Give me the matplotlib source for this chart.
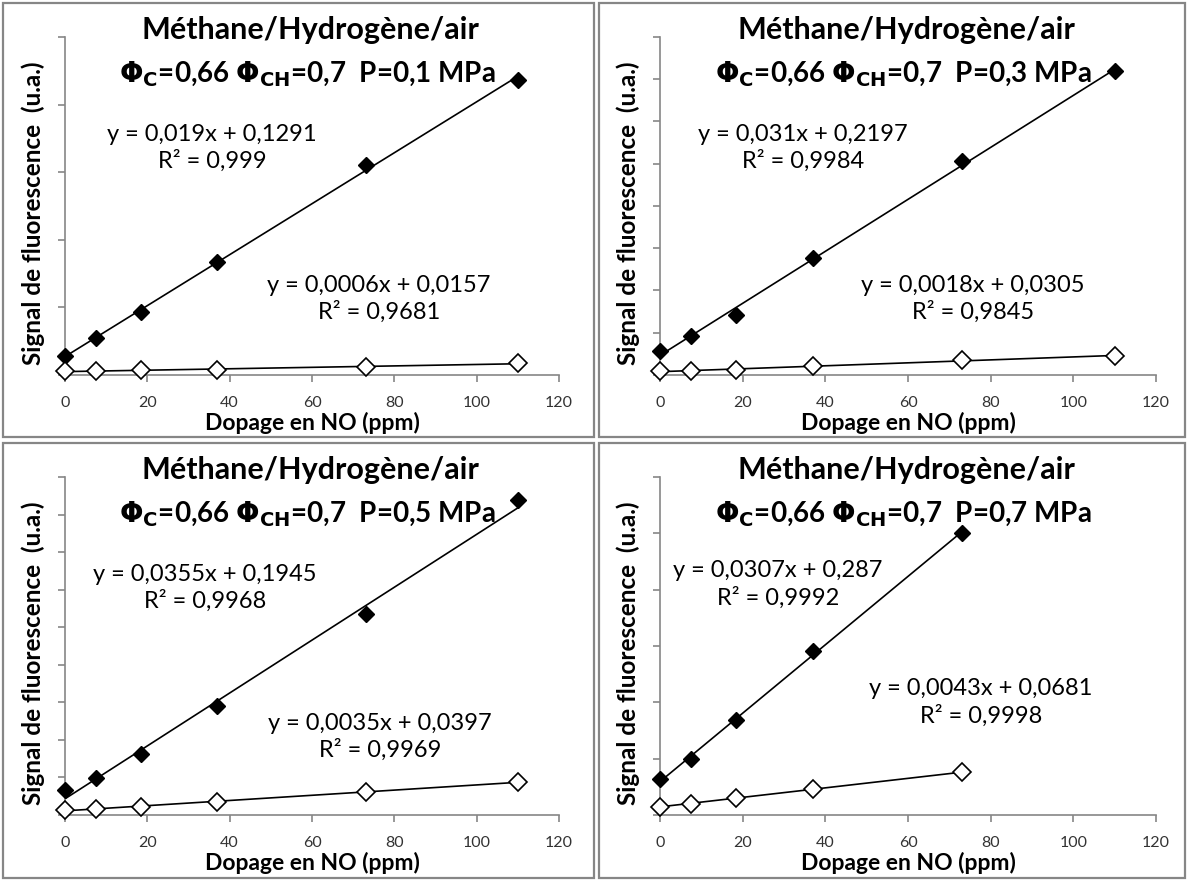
import numpy as np
import matplotlib
matplotlib.use('Agg')
import matplotlib.pyplot as plt
from matplotlib.patches import Rectangle

plt.rcParams['font.family'] = ['Lato', 'DejaVu Sans']
plt.rcParams['mathtext.fontset'] = 'custom'
plt.rcParams['mathtext.rm'] = 'Lato'
plt.rcParams['mathtext.bf'] = 'DejaVu Sans:bold'
plt.rcParams['mathtext.fallback'] = 'stixsans'

# NO doping (ppm)
x_full = [0, 7.5, 18.5, 37, 73, 110]
x_short = [0, 7.5, 18.5, 37, 73]

pressures = ['0,1', '0,3', '0,5', '0,7']

# fluorescence signal, filled diamonds
sig_01 = [0.139, 0.273, 0.468, 0.834, 1.556, 2.183]
sig_03 = [0.285, 0.457, 0.715, 1.387, 2.527, 3.594]
sig_05 = [0.329, 0.496, 0.812, 1.449, 2.678, 4.192]
sig_07 = [0.316, 0.498, 0.840, 1.455, 2.502]

# fluorescence signal, open diamonds
bg_01 = [0.029, 0.029, 0.037, 0.037, 0.061, 0.087]
bg_03 = [0.047, 0.051, 0.059, 0.105, 0.176, 0.227]
bg_05 = [0.066, 0.083, 0.110, 0.176, 0.307, 0.439]
bg_07 = [0.073, 0.102, 0.152, 0.228, 0.380]

eq_sig = ['y = 0,019x + 0,1291\nR² = 0,999',
          'y = 0,031x + 0,2197\nR² = 0,9984',
          'y = 0,0355x + 0,1945\nR² = 0,9968',
          'y = 0,0307x + 0,287\nR² = 0,9992']
eq_bg = ['y = 0,0006x + 0,0157\nR² = 0,9681',
         'y = 0,0018x + 0,0305\nR² = 0,9845',
         'y = 0,0035x + 0,0397\nR² = 0,9969',
         'y = 0,0043x + 0,0681\nR² = 0,9998']

y_max = [2.5, 4.0, 4.5, 3.0]

panels = [
    (x_full, sig_01, bg_01),
    (x_full, sig_03, bg_03),
    (x_full, sig_05, bg_05),
    (x_short, sig_07, bg_07),
]

W, H = 1188, 882
fig = plt.figure(figsize=(W / 100, H / 100), dpi=100)

# pixel layout: border boxes and axes boxes
borders = [(3, 3, 594, 437), (599, 3, 1185, 437), (3, 443, 594, 878), (599, 443, 1185, 878)]
axes_px = [(65, 37, 559, 375), (660, 37, 1156, 375), (65, 477, 559, 815), (660, 477, 1156, 815)]
eq_sig_pos = [(0.298, 0.672), (0.288, 0.672), (0.283, 0.672), (0.238, 0.683)]
eq_bg_pos = [(0.636, 0.225), (0.631, 0.225), (0.638, 0.231), (0.647, 0.334)]

grey = '#868686'

for i in range(4):
    bx0, by0, bx1, by1 = borders[i]
    fig.patches.append(Rectangle((bx0 / W, 1 - by1 / H), (bx1 - bx0) / W, (by1 - by0) / H,
                                 transform=fig.transFigure, fill=False, ec=grey, lw=1.6))
    x0, y0, x1, y1 = axes_px[i]
    ax = fig.add_axes([x0 / W, 1 - y1 / H, (x1 - x0) / W, (y1 - y0) / H])
    xs, sig, bg = panels[i]

    # trendlines (linear fit)
    for ys in (sig, bg):
        p = np.polyfit(xs, ys, 1)
        xx = np.array([min(xs), max(xs)])
        ax.plot(xx, np.polyval(p, xx), color='black', lw=1.2, zorder=2)

    ax.plot(xs, sig, 'D', color='black', markersize=8, zorder=3, clip_on=False)
    ax.plot(xs, bg, 'D', mfc='white', mec='black', mew=1.2, markersize=9, zorder=3, clip_on=False)

    ax.set_xlim(0, 120)
    ax.set_ylim(0, y_max[i])
    ax.set_xticks(np.arange(0, 121, 20))
    ax.set_yticks(np.arange(0, y_max[i] + 0.01, 0.5))
    ax.set_yticklabels([])
    ax.tick_params(axis='both', direction='out', length=5, color=grey, width=1.2)
    ax.tick_params(axis='x', labelsize=11.5, labelcolor='#333333', pad=10)
    for s in ('top', 'right'):
        ax.spines[s].set_visible(False)
    for s in ('left', 'bottom'):
        ax.spines[s].set_color(grey)
        ax.spines[s].set_linewidth(1.2)

    ax.text(0.496, 1.02, 'Méthane/Hydrogène/air', transform=ax.transAxes,
            ha='center', va='center', fontsize=22, fontweight='bold')
    ax.text(0.49, 0.89,
            r'$\mathbf{\Phi_{C}}$=0,66 $\mathbf{\Phi_{CH}}$=0,7  P=' + pressures[i] + ' MPa',
            transform=ax.transAxes, ha='center', va='center', fontsize=20, fontweight='bold')

    ax.text(eq_sig_pos[i][0], eq_sig_pos[i][1], eq_sig[i], transform=ax.transAxes,
            ha='center', va='center', fontsize=17, linespacing=1.3)
    ax.text(eq_bg_pos[i][0], eq_bg_pos[i][1], eq_bg[i], transform=ax.transAxes,
            ha='center', va='center', fontsize=17, linespacing=1.3)

    ax.text(0.5, -0.142, 'Dopage en NO (ppm)', transform=ax.transAxes,
            ha='center', va='center', fontsize=16.5, fontweight='bold')
    ax.text(-0.065, 0.48, 'Signal de fluorescence  (u.a.)', transform=ax.transAxes,
            ha='center', va='center', rotation=90, fontsize=17.5, fontweight='bold')

fig.savefig('out.png', dpi=100, facecolor='white')
